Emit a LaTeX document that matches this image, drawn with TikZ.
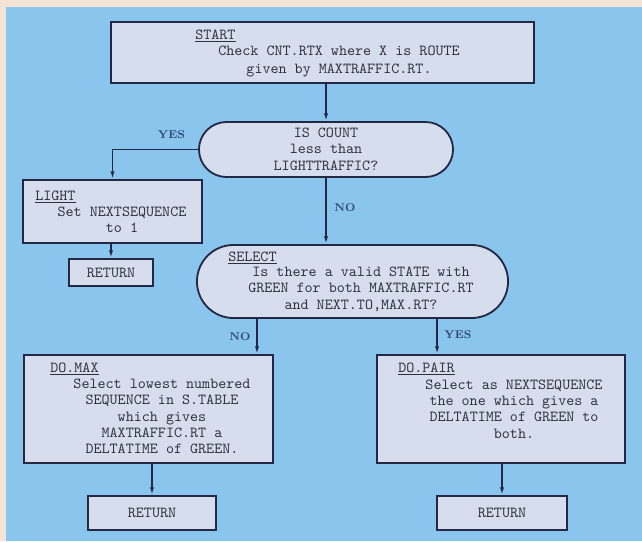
\documentclass[tikz,border=0pt]{standalone}
\usepackage{tikz}
\usetikzlibrary{arrows.meta,positioning}
\definecolor{panel}{RGB}{138,197,238}
\definecolor{paper}{RGB}{244,228,214}
\definecolor{boxfill}{RGB}{214,222,238}
\definecolor{boxline}{RGB}{36,40,68}
\definecolor{ink}{RGB}{50,50,62}
\definecolor{lblblue}{RGB}{50,74,120}
\tikzset{
  box/.style={rectangle,draw=boxline,fill=boxfill,line width=1.3pt,inner sep=0pt},
  txt/.style={text=ink,font=\ttfamily\fontsize{10.9}{11.6}\selectfont,align=center,inner sep=0pt},
  ttl/.style={txt,anchor=base west},
  rtn/.style={box,txt,draw=boxline,line width=1.3pt},
  lbl/.style={text=lblblue,font=\bfseries\fontsize{8}{10}\selectfont,inner sep=0pt},
  flow/.style={-{Latex[length=5.5pt,width=3pt]},line width=1.1pt,draw=boxline}
}

\begin{document}
\begin{tikzpicture}[x=0.025cm,y=-0.025cm]
\fill[paper] (0,0) rectangle (642,541);
\fill[panel] (6,7) rectangle (642,541);
\useasboundingbox (0,0) rectangle (642,541);

% boxes
\node[box,minimum width=10.575cm,minimum height=1.525cm] (start) at (322.5,52.5) {};
\node[box,minimum width=6.35cm,minimum height=1.375cm,rounded corners=0.6875cm] (dec1) at (326,149.5) {};
\node[box,minimum width=4.475cm,minimum height=1.575cm] (light) at (112.5,211.5) {};
\node[rtn,minimum width=2.1cm,minimum height=0.675cm] (ret1) at (111,272.5) {RETURN};
\node[box,minimum width=7.775cm,minimum height=1.825cm,rounded corners=0.9125cm] (select) at (352.5,281.5) {};
\node[box,minimum width=6.225cm,minimum height=2.7cm] (domax) at (148.5,409) {};
\node[rtn,minimum width=3.2cm,minimum height=0.85cm] (ret2) at (152,513) {RETURN};
\node[box,minimum width=6.2cm,minimum height=2.7cm] (dopair) at (501,409) {};
\node[rtn,minimum width=3.25cm,minimum height=0.85cm] (ret3) at (502,513) {RETURN};

% texts
\node[ttl] (startT) at (195,39.5) {\underline{START}};
\node[txt,font=\ttfamily\fontsize{10.9}{12.8}\selectfont] (startB) at (339,61) {Check CNT.RTX where X is ROUTE\\given by MAXTRAFFIC.RT.};
\node[txt] (dec1B) at (326,149) {IS COUNT\\less than\\LIGHTTRAFFIC?};
\node[ttl] (lightT) at (35,200.5) {\underline{LIGHT}};
\node[txt] (lightB) at (122,219.5) {Set NEXTSEQUENCE\\to 1};
\node[ttl] (selectT) at (228,261.5) {\underline{SELECT}};
\node[txt] (selectB) at (361,289) {Is there a valid STATE with\\GREEN for both MAXTRAFFIC.RT\\and NEXT.TO,MAX.RT?};
\node[ttl] (domaxT) at (50,372.5) {\underline{DO.MAX}};
\node[txt] (domaxB) at (162,416.5) {Select lowest numbered\\SEQUENCE in S.TABLE\\which gives\\MAXTRAFFIC.RT a\\DELTATIME of GREEN.};
\node[ttl] (dopairT) at (398,372.5) {\underline{DO.PAIR}};
\node[txt] (dopairB) at (514,409) {Select as NEXTSEQUENCE\\the one which gives a\\DELTATIME of GREEN to\\both.};

% connectors
\draw[flow] (start.south -| dec1.north) -- (dec1.north);
\draw[flow] (dec1.west) -| (light.north);
\draw[flow] (dec1.south) -- (dec1.south |- select.north);
\draw[flow] (light.south -| ret1.north) -- (ret1.north);
\draw[flow] ([xshift=-2.3875cm]select.south) -- ([xshift=-2.3875cm]select.south |- domax.north);
\draw[flow] ([xshift=2.1125cm]select.south) -- ([xshift=2.1125cm]select.south |- dopair.north);
\draw[flow] (domax.south -| ret2.north) -- (ret2.north);
\draw[flow] (dopair.south -| ret3.north) -- (ret3.north);

% branch labels
\node[lbl] (yes1) at (171.5,135) {YES};
\node[lbl] (no1) at (345,208) {NO};
\node[lbl] (no2) at (240,337) {NO};
\node[lbl] (yes2) at (458,335) {YES};
\end{tikzpicture}
\end{document}
